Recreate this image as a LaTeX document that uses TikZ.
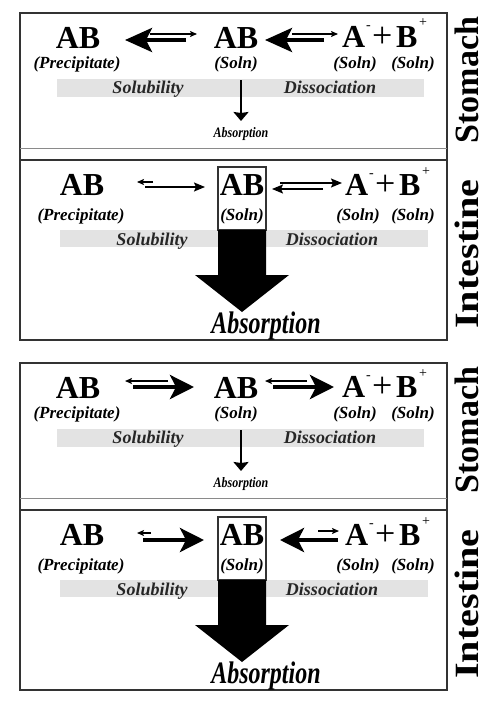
\documentclass[tikz,border=0pt]{standalone}
\usepackage{fontspec}
\setmainfont{Liberation Serif}
\usetikzlibrary{arrows.meta}
\definecolor{bandgray}{HTML}{E3E3E3}
\definecolor{linegray}{HTML}{8A8A8A}
\definecolor{boxdark}{HTML}{333333}
\newcommand{\fs}[1]{\fontsize{#1}{#1}\selectfont}
\newcommand{\figbase}[1]{%
 \draw[boxline] (20,13) rectangle (447,340);
 \draw[thinline] (20,148) -- (447,148);
 \draw[boxline] (20,160) -- (447,160);
 % ---- stomach section
 \fill[bandgray] (57,79) rectangle (424,97);
 \node[bigtxt] (#1sABp) at (78,48) {AB};
 \node[labtxt] (#1sPre) at (77,68) {(Precipitate)};
 \node[bigtxt] (#1sABs) at (236,48) {AB};
 \node[labtxt] (#1sSol) at (236,68) {(Soln)};
 \node[bigtxt, anchor=base west] (#1sA) at (342,47) {A};
 \node[suptxt] (#1sAm) at (366,29) {-};
 \node[plustxt] (#1sPl) at (372,47) {+};
 \node[bigtxt, anchor=base west] (#1sB) at (396,47) {B};
 \node[suptxt] (#1sBp) at (419,27) {+};
 \node[labtxt] (#1sSolA) at (355,68) {(Soln)};
 \node[labtxt] (#1sSolB) at (413,68) {(Soln)};
 \node[bandtxt] (#1sSolub) at (148,93) {Solubility};
 \node[bandtxt] (#1sDiss) at (330,93) {Dissociation};
 \node[font=\fs{12}\bfseries\itshape, inner sep=0pt, anchor=base] (#1sAbs) at (241,137) {\scalebox{1}[1.2]{Absorption}};
 \coordinate (#1sDa) at (241,80);
 \coordinate (#1sDb) at (241,121);
 \draw[downarr] (#1sDa) -- (#1sDb);
 \node[sidetxt] (#1sSide) at (478,80) {Stomach};
 % ---- intestine section
 \fill[bandgray] (60,230) rectangle (428,247);
 \node[bigtxt] (#1iABp) at (82,195) {AB};
 \node[labtxt] (#1iPre) at (81,220) {(Precipitate)};
 \node[draw=boxdark, line width=1.3pt, minimum width=48pt, minimum height=63pt, inner sep=0pt] (#1box) at (242,198.5) {};
 \node[bigtxt] (#1iABs) at (242,195) {AB};
 \node[labtxt] (#1iSol) at (242,220) {(Soln)};
 \node[bigtxt, anchor=base west] (#1iA) at (345,195) {A};
 \node[suptxt] (#1iAm) at (369,177) {-};
 \node[plustxt] (#1iPl) at (375,195) {+};
 \node[bigtxt, anchor=base west] (#1iB) at (399,195) {B};
 \node[suptxt] (#1iBp) at (422,175) {+};
 \node[labtxt] (#1iSolA) at (358,220) {(Soln)};
 \node[labtxt] (#1iSolB) at (413,220) {(Soln)};
 \node[bandtxt] (#1iSolub) at (152,245) {Solubility};
 \node[bandtxt] (#1iDiss) at (332,245) {Dissociation};
 \fill[black] (218,230) -- (266,230) -- (266,275) -- (289,275) -- (242,312) -- (195,275) -- (218,275) -- cycle;
 \node[font=\fs{24}\bfseries\itshape, inner sep=0pt, anchor=base] (#1iAbs) at (266,333) {\scalebox{1}[1.3]{Absorption}};
 \node[sidetxt] (#1iSide) at (478,254) {\scalebox{1.18}[1]{Intestine}};
}
\begin{document}
\begin{tikzpicture}[x=1pt,y=-1pt,
  bigtxt/.style={font=\fs{32}\bfseries, inner sep=0pt, anchor=base},
  labtxt/.style={font=\fs{17}\bfseries\itshape, inner sep=0pt, anchor=base},
  bandtxt/.style={font=\fs{18}\bfseries\itshape, text=black!85, inner sep=0pt, anchor=base},
  plustxt/.style={font=\fs{36}, inner sep=0pt, anchor=base west},
  suptxt/.style={font=\fs{14}, inner sep=0pt, anchor=base west},
  sidetxt/.style={font=\fs{34}\bfseries, rotate=90, inner sep=0pt, anchor=base},
  thickarr/.style={line width=4pt, -{Stealth[length=#1,width=24pt,inset=6pt]}},
  thickarr/.default=24pt,
  medarr/.style={line width=1.5pt, -{Stealth[length=11pt,width=9pt,inset=2pt]}},
  smallarr/.style={line width=1.2pt, -{Stealth[length=7pt,width=6pt,inset=1.5pt]}},
  downarr/.style={line width=2pt, -{Stealth[length=9pt,width=15pt,inset=1pt]}},
  boxline/.style={line width=1.3pt, draw=boxdark},
  thinline/.style={line width=1pt, draw=linegray},
]
\fill[white] (0,0) rectangle (500,712);
\useasboundingbox (0,0) rectangle (500,712);
% ================= figure 1
\begin{scope}
 \figbase{a}
 % stomach arrows
 \coordinate (aS1a) at (186,40); \coordinate (aS1b) at (125,40);
 \draw[thickarr=27pt] (aS1a) -- (aS1b);
 \coordinate (aS2a) at (150,34); \coordinate (aS2b) at (197,34);
 \draw[smallarr] (aS2a) -- (aS2b);
 \coordinate (aS3a) at (324,40); \coordinate (aS3b) at (265,40);
 \draw[thickarr=27pt] (aS3a) -- (aS3b);
 \coordinate (aS4a) at (292,34); \coordinate (aS4b) at (338,34);
 \draw[smallarr] (aS4a) -- (aS4b);
 % intestine arrows
 \coordinate (aI1a) at (153,182); \coordinate (aI1b) at (137,182);
 \draw[smallarr] (aI1a) -- (aI1b);
 \coordinate (aI2a) at (145,187); \coordinate (aI2b) at (205,187);
 \draw[medarr] (aI2a) -- (aI2b);
 \coordinate (aI3a) at (323,189); \coordinate (aI3b) at (272,189);
 \draw[medarr] (aI3a) -- (aI3b);
 \coordinate (aI4a) at (280,183); \coordinate (aI4b) at (342,183);
 \draw[medarr] (aI4a) -- (aI4b);
\end{scope}
% ================= figure 2
\begin{scope}[shift={(0,350)}]
 \figbase{b}
 % stomach arrows
 \coordinate (bS1a) at (168,31); \coordinate (bS1b) at (125,31);
 \draw[smallarr] (bS1a) -- (bS1b);
 \coordinate (bS2a) at (133,37); \coordinate (bS2b) at (194,37);
 \draw[thickarr] (bS2a) -- (bS2b);
 \coordinate (bS3a) at (307,31); \coordinate (bS3b) at (265,31);
 \draw[smallarr] (bS3a) -- (bS3b);
 \coordinate (bS4a) at (273,37); \coordinate (bS4b) at (334,37);
 \draw[thickarr] (bS4a) -- (bS4b);
 % intestine arrows
 \coordinate (bI1a) at (151,183); \coordinate (bI1b) at (137,183);
 \draw[smallarr] (bI1a) -- (bI1b);
 \coordinate (bI2a) at (143,190); \coordinate (bI2b) at (204,190);
 \draw[thickarr] (bI2a) -- (bI2b);
 \coordinate (bI3a) at (338,190); \coordinate (bI3b) at (280,190);
 \draw[thickarr] (bI3a) -- (bI3b);
 \coordinate (bI4a) at (318,181); \coordinate (bI4b) at (339,181);
 \draw[smallarr] (bI4a) -- (bI4b);
\end{scope}
\end{tikzpicture}
\end{document}
